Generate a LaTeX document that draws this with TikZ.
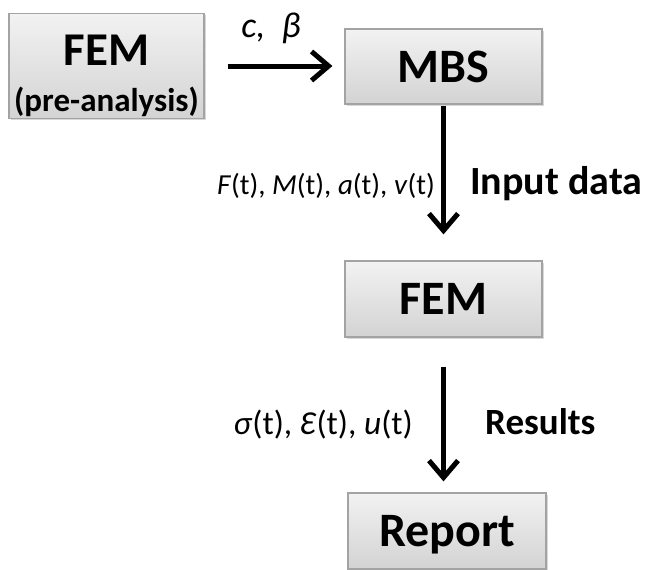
\documentclass[tikz,border=0pt]{standalone}
\usepackage{fontspec}
\setmainfont{Carlito}
\usetikzlibrary{arrows.meta,shadows}
\definecolor{boxtop}{HTML}{F2F2F2}
\definecolor{boxbot}{HTML}{D3D3D3}
\definecolor{boxline}{HTML}{A3A3A3}
\newcommand{\fsz}[1]{\fontsize{#1}{#1}\selectfont}
\begin{document}
\begin{tikzpicture}[x=1pt,y=-1pt,
  box/.style={draw=boxline, line width=1.2pt, top color=boxtop, bottom color=boxbot,
    drop shadow={shadow xshift=1.5pt, shadow yshift=-1.5pt, opacity=0.3},
    inner sep=0pt, text depth=0pt, font=\bfseries\fsz{48}},
  flow/.style={line width=5pt, -{Straight Barb[length=17pt, width=29pt, line width=5pt]}},
  lbl/.style={inner sep=0pt, font=\fsz{30}},
  bold/.style={inner sep=0pt, font=\bfseries\fsz{40}}]
\useasboundingbox (0,0) rectangle (646,570);
\fill[white] (0,0) rectangle (646,570);
% boxes
\node[box, minimum width=195pt, minimum height=105pt] (fem1) at (106.5,66) {};
\node[inner sep=0pt, anchor=base, font=\bfseries\fsz{47}] (fem1t) at (106.5,65) {FEM};
\node[inner sep=0pt, anchor=base, font=\bfseries\fsz{33}] (fem1s) at (106.5,111) {(pre-analysis)};
\node[box, minimum width=197pt, minimum height=75pt] (mbs) at (443.5,66.5) {MBS};
\node[box, minimum width=197pt, minimum height=76pt] (fem2) at (443.5,299) {FEM};
\node[box, minimum width=198pt, minimum height=76pt] (report) at (447,531) {Report};
% connectors
\draw[flow, shorten <=23pt, shorten >=12pt] (fem1.east |- 0,66) -- (mbs.west |- 0,66);
\draw[flow, shorten <=1pt, shorten >=26pt] (mbs.south -| 443.5,0) -- (fem2.north -| 443.5,0);
\draw[flow, shorten <=29pt, shorten >=11pt] (fem2.south -| 443.5,0) -- (report.north -| 443.5,0);
% labels
\node[lbl, font=\itshape\fsz{36}] (lc) at (271,28) {c,\ \ β};
\node[lbl, anchor=base east, font=\fsz{29}] (lin) at (435,194) {\textit{F}(t), \textit{M}(t), \textit{a}(t), \textit{v}(t)};
\node[bold, anchor=base west] (tin) at (470,194) {Input data};
\node[lbl, anchor=base east, font=\fsz{33.5}] (lout) at (413,434) {\textit{σ}(t), \textit{Ɛ}(t), \textit{u}(t)};
\node[bold, anchor=base west, font=\bfseries\fsz{37}] (tout) at (485,434) {Results};
\end{tikzpicture}
\end{document}
